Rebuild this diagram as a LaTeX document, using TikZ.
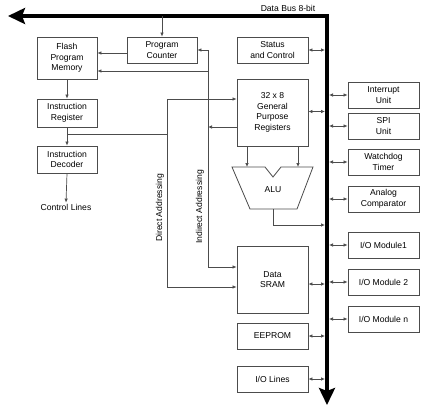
\documentclass[tikz,border=0pt]{standalone}
\usepackage{fontspec}
\setmainfont{Liberation Sans}
\usetikzlibrary{arrows.meta}
\tikzset{
  blk/.style={draw=black!70, line width=0.8pt, minimum width=71pt, minimum height=26pt,
    align=center, inner sep=0pt, font=\fontsize{8.6}{10.5}\selectfont},
  lbl/.style={inner sep=1pt, font=\fontsize{8.6}{10.5}\selectfont},
  line/.style={draw=black!70, line width=0.7pt},
  arr/.style={line, -{Latex[length=4pt,width=3.5pt]}},
  link/.style={line, {Latex[length=4pt,width=3.5pt]}-{Latex[length=4pt,width=3.5pt]}, shorten >=2pt},
  bus/.style={draw=black, line width=4pt, line join=miter,
    {Stealth[length=17pt,width=16pt,inset=3pt]}-{Stealth[length=17pt,width=16pt,inset=3pt]}}
}
\begin{document}
\begin{tikzpicture}[x=1pt, y=-1pt]
            \useasboundingbox (0,0) rectangle (434,413);
            % data bus
            \coordinate (busW) at (8,16);
            \coordinate (busTop) at (327,16);
            \coordinate (busS) at (327,405);
            \draw[bus] (busW) -- (busTop) -- (busS);
            \node[lbl] (buslbl) at (288,8) {Data Bus 8-bit};
            % left column
            \node[blk, minimum width=60pt, minimum height=42pt] (flash) at (67,58) {Flash\\Program\\Memory};
            \node[blk, minimum width=60pt, minimum height=28pt] (ir) at (67,113) {Instruction\\Register};
            \node[blk, minimum width=60pt, minimum height=27pt] (idec) at (67,159.5) {Instruction\\Decoder};
            \node[lbl] (ctrl) at (66,207) {Control Lines};
            \node[blk, minimum width=70pt] (pc) at (162,50) {Program\\Counter};
            % middle column
            \node[blk] (stat) at (272.5,50) {Status\\and Control};
            \node[blk, minimum height=67pt] (gpr) at (272.5,112.5) {32 x 8\\General\\Purpose\\Registers};
            \node[blk, minimum height=67pt] (sram) at (272.5,279.5) {Data\\SRAM};
            \node[blk] (eeprom) at (272.5,336) {EEPROM};
            \node[blk] (iol) at (272.5,379) {I/O Lines};
            % ALU
            \coordinate (aluT) at (232,167);
            \coordinate (aluO) at (273,209);
            \draw[line, line width=0.8pt] (aluT) -- (265,167) -- (273,177) -- (281,167) -- (313,167)
                -- (297,209) -- (250,209) -- cycle;
            \node[lbl] (alu) at (273,190) {ALU};
            % right column
            \node[blk] (intr) at (383.5,95) {Interrupt\\Unit};
            \node[blk] (spi) at (383.5,126) {SPI\\Unit};
            \node[blk] (wdt) at (383.5,162) {Watchdog\\Timer};
            \node[blk] (acomp) at (383.5,199) {Analog\\Comparator};
            \node[blk] (io1) at (383.5,245) {I/O Module1};
            \node[blk] (io2) at (383.5,282) {I/O Module 2};
            \node[blk] (ion) at (383.5,319) {I/O Module n};
            % bus links
            \foreach \n in {stat, eeprom, iol}
                \draw[link] (\n.east) -- (\n.east -| busTop);
            \draw[link] ([yshift=1pt]gpr.east) -- ([yshift=1pt]gpr.east -| busTop);
            \draw[link] ([yshift=-4.5pt]sram.east) -- ([yshift=-4.5pt]sram.east -| busTop);
            \foreach \n in {intr, spi, wdt, acomp, io1, io2, ion}
                \draw[link] (\n.west) -- (\n.west -| busTop);
            % program flow
            \draw[arr] (pc.north |- busTop) -- (pc.north);
            \draw[arr] ([yshift=-3pt]pc.west) -- ([yshift=-3pt]pc.west -| flash.east);
            \draw[arr] (flash.south) -- (ir.north);
            \coordinate (irj) at (67,134);
            \draw[line] (ir.south) -- (irj);
            \draw[arr] (irj) -- (idec.north);
            \draw[arr] (idec.south) -- (ctrl.north);
            % direct addressing
            \coordinate (dirT) at (167,99);
            \coordinate (dirB) at (167,287);
            \draw[line] (irj) -- (irj -| dirT);
            \draw[line] (dirT) -- (dirB);
            \draw[arr] (dirT) -- (dirT -| gpr.west);
            \draw[arr] (dirB) -- (dirB -| sram.west);
            \node[lbl, rotate=90] (dirlbl) at (160,208) {Direct Addressing};
            % indirect addressing
            \coordinate (indT) at (208,50);
            \coordinate (indB) at (208,267);
            \coordinate (fl2) at ([yshift=-13pt]flash.east);
            \draw[line] (indT) -- (indB);
            \draw[arr] (indT) -- (pc.east);
            \draw[arr] (fl2 -| indT) -- (fl2);
            \draw[arr] ([yshift=-14.5pt]gpr.west) -- ([yshift=-14.5pt]gpr.west -| indT);
            \draw[arr] (indB) -- (indB -| sram.west);
            \node[lbl, rotate=90] (indlbl) at (200,207) {Indirect Addressing};
            % registers to ALU
            \draw[arr] ([xshift=-25.5pt]gpr.south) -- ([xshift=-25.5pt]gpr.south |- aluT);
            \draw[arr] ([xshift=25.5pt]gpr.south) -- ([xshift=25.5pt]gpr.south |- aluT);
            \coordinate (aluK) at (273,225);
            \draw[arr, shorten >=2pt] (aluO) -- (aluK) -- (aluK -| busTop);
\end{tikzpicture}
\end{document}
